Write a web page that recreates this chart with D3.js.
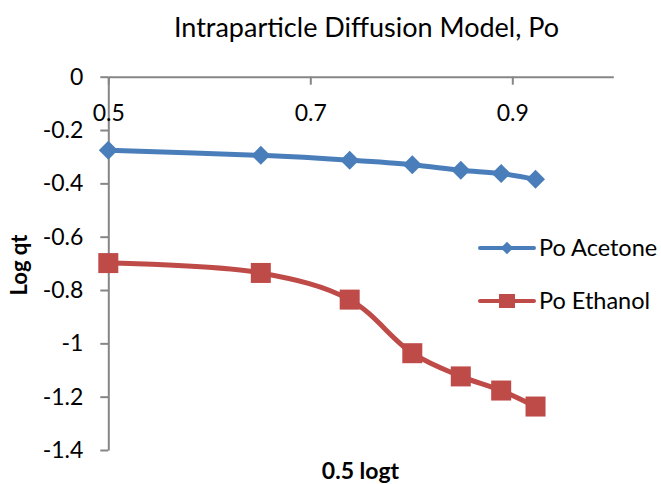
<!DOCTYPE html>
<html>
<head>
<meta charset="utf-8">
<script src="https://cdn.jsdelivr.net/npm/d3@7"></script>
<style>
  html, body { margin: 0; padding: 0; background: #fff; }
  svg { display: block; font-family: Lato, "Open Sans", sans-serif; }
</style>
</head>
<body>
<svg id="chart" width="661" height="484"></svg>
<script>
// ---- data ----
const logt = [0.5, 0.651, 0.739, 0.801, 0.849, 0.889, 0.923];
const poAcetone = [-0.276, -0.295, -0.313, -0.330, -0.351, -0.363, -0.385];
const poEthanol = [-0.699, -0.736, -0.836, -1.037, -1.124, -1.177, -1.237];
const xTicks = [0.5, 0.7, 0.9];
const yTicks = [0, -0.2, -0.4, -0.6, -0.8, -1, -1.2, -1.4];
const seriesNames = ["Po Acetone", "Po Ethanol"];
const titleText = "Intraparticle Diffusion Model, Po";
const xTitle = "0.5 logt";
const yTitle = "Log qt";

const svg = d3.select("#chart");
const x = d3.scaleLinear().domain([0.5, 1.0]).range([108.3, 613.3]);
const y = d3.scaleLinear().domain([0, -1.4]).range([76.7, 450]);
const axisColor = "#868686";
const colors = ["#4A7EBB", "#BE4B48"];

// title
svg.append("text").attr("x", 366.5).attr("y", 37).attr("text-anchor", "middle")
  .attr("font-size", 27).attr("fill", "#000").text(titleText);

// y axis
const gy = svg.append("g").attr("transform", `translate(${x(0.5)},0)`)
  .call(d3.axisLeft(y).tickValues(yTicks).tickSizeInner(8).tickSizeOuter(0).tickPadding(17)
    .tickFormat(d => String(+d.toFixed(1))));
gy.selectAll("text").attr("font-size", 23).attr("fill", "#000").attr("font-family", "Lato, sans-serif");
gy.selectAll("line, path").attr("stroke", axisColor).attr("stroke-width", 2);

// x axis at y=0
const gx = svg.append("g").attr("transform", `translate(0,${y(0)})`)
  .call(d3.axisBottom(x).tickValues(xTicks).tickSizeInner(8).tickSizeOuter(0).tickPadding(20)
    .tickFormat(d => d.toFixed(1)));
gx.selectAll("text").attr("font-size", 23).attr("fill", "#000").attr("font-family", "Lato, sans-serif");
gx.selectAll("line, path").attr("stroke", axisColor).attr("stroke-width", 2);

// axis titles
svg.append("text").attr("x", 360.5).attr("y", 479).attr("text-anchor", "middle")
  .attr("font-size", 23).attr("font-weight", "bold").text(xTitle);
svg.append("text").attr("transform", "translate(27,265) rotate(-90)").attr("text-anchor", "middle")
  .attr("font-size", 22).attr("font-weight", "bold").text(yTitle);

// series
const series = [poAcetone, poEthanol];
const line = d3.line().x(d => x(d[0])).y(d => y(d[1])).curve(d3.curveCatmullRom.alpha(0.5));

series.forEach((vals, i) => {
  const pts = logt.map((t, j) => [t, vals[j]]);
  svg.append("path").datum(pts).attr("d", line).attr("fill", "none")
    .attr("stroke", colors[i]).attr("stroke-width", 5).attr("stroke-linejoin", "round");
  if (i === 0) {
    svg.append("g").selectAll("path").data(pts).join("path")
      .attr("d", d3.symbol().type(d3.symbolSquare).size(180)())
      .attr("transform", d => `translate(${x(d[0])},${y(d[1])}) rotate(45)`)
      .attr("fill", colors[i]);
  } else {
    svg.append("g").selectAll("rect").data(pts).join("rect")
      .attr("x", d => x(d[0]) - 10).attr("y", d => y(d[1]) - 10)
      .attr("width", 20).attr("height", 20).attr("fill", colors[i]);
  }
});

// legend
const legY = [248, 301];
seriesNames.forEach((name, i) => {
  const g = svg.append("g");
  g.append("line").attr("x1", 480).attr("x2", 534).attr("y1", legY[i]).attr("y2", legY[i])
    .attr("stroke", colors[i]).attr("stroke-width", 4).attr("stroke-linecap", "round");
  if (i === 0) {
    g.append("path").attr("d", d3.symbol().type(d3.symbolSquare).size(80)())
      .attr("transform", `translate(507,${legY[i]}) rotate(45)`).attr("fill", colors[i]);
  } else {
    g.append("rect").attr("x", 507 - 8).attr("y", legY[i] - 7).attr("width", 16).attr("height", 14)
      .attr("fill", colors[i]);
  }
  g.append("text").attr("x", 539).attr("y", legY[i]).attr("dy", "0.35em")
    .attr("font-size", 23.5).attr("fill", "#000").text(name);
});
</script>
</body>
</html>
